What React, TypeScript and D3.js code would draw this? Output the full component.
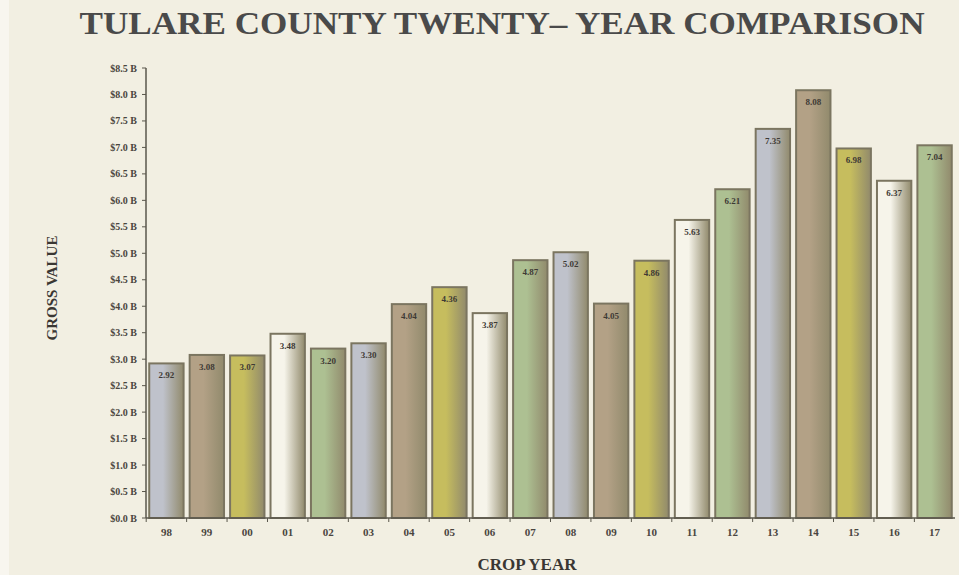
import React from "react";
import * as d3 from "d3";

const years = ["98","99","00","01","02","03","04","05","06","07","08","09","10","11","12","13","14","15","16","17"];
const values = [2.92,3.08,3.07,3.48,3.20,3.30,4.04,4.36,3.87,4.87,5.02,4.05,4.86,5.63,6.21,7.35,8.08,6.98,6.37,7.04];
const valueLabels = ["2.92","3.08","3.07","3.48","3.20","3.30","4.04","4.36","3.87","4.87","5.02","4.05","4.86","5.63","6.21","7.35","8.08","6.98","6.37","7.04"];
const yTicks = [0,0.5,1,1.5,2,2.5,3,3.5,4,4.5,5,5.5,6,6.5,7,7.5,8,8.5];
const palette = ["#bfc2cb","#b3a186","#c6bd5e","#f6f4ea","#adc092"];

const W = 959, H = 575;
const left = 146, right = 955, top = 68, bottom = 518;

export default function App() {
  const x = d3.scaleBand().domain(years).range([left, right]).paddingInner(0.15).paddingOuter(0.08);
  const y = d3.scaleLinear().domain([0, 8.5]).range([bottom, top]);
  const font = "'Liberation Serif', 'DejaVu Serif', serif";
  return (
    <svg width={W} height={H} style={{ position: "absolute", left: 0, top: 0 }}>
      <defs>
        {palette.map((c, i) => (
          <linearGradient key={i} id={`g${i}`} x1="0" x2="1" y1="0" y2="0">
            <stop offset="0%" stopColor={c} />
            <stop offset="40%" stopColor={c} />
            <stop offset="100%" stopColor="#918a6c" />
          </linearGradient>
        ))}
      </defs>
      <rect x={0} y={0} width={W} height={H} fill="#f2efe2" />
      <rect x={0} y={0} width={9} height={H} fill="#f8f6ef" />
      <text x={502} y={34} textAnchor="middle" fontFamily={font} fontWeight="bold" fontSize={32} fill="#4a4a4a" textLength={845} lengthAdjust="spacingAndGlyphs">TULARE COUNTY TWENTY– YEAR COMPARISON</text>
      {values.map((v, i) => (
        <g key={i}>
          <rect x={x(years[i])} y={y(v)} width={x.bandwidth()} height={bottom - y(v)} fill={`url(#g${i % 5})`} stroke="#7b7560" strokeWidth={2} />
          <text x={(x(years[i]) as number) + x.bandwidth() / 2} y={y(v) + 15} textAnchor="middle" fontFamily={font} fontWeight="bold" fontSize={9} fill="#3e3a35">{valueLabels[i]}</text>
        </g>
      ))}
      <line x1={left} x2={left} y1={top} y2={bottom} stroke="#5a574c" strokeWidth={1.5} />
      <line x1={left} x2={right} y1={bottom} y2={bottom} stroke="#5a574c" strokeWidth={1.5} />
      {yTicks.map((t) => (
        <g key={t}>
          <line x1={left - 4} x2={left} y1={y(t)} y2={y(t)} stroke="#5a574c" strokeWidth={1} />
          <text x={left - 9} y={y(t) + 3.5} textAnchor="end" fontFamily={font} fontWeight="bold" fontSize={10} fill="#4a4540">{`$${t.toFixed(1)} B`}</text>
        </g>
      ))}
      {years.map((yr) => {
        const b = x(yr) as number;
        const step = x.step();
        return (
          <g key={yr}>
            <line x1={b - (step - x.bandwidth()) / 2} x2={b - (step - x.bandwidth()) / 2} y1={bottom} y2={bottom + 4} stroke="#5a574c" strokeWidth={1} />
            <text x={b + x.bandwidth() / 2} y={bottom + 18} textAnchor="middle" fontFamily={font} fontWeight="bold" fontSize={11} fill="#4a4540">{yr}</text>
          </g>
        );
      })}
      <text transform={`translate(57,288) rotate(-90)`} textAnchor="middle" fontFamily={font} fontWeight="bold" fontSize={15} fill="#3a3733">GROSS VALUE</text>
      <text x={527} y={570} textAnchor="middle" fontFamily={font} fontWeight="bold" fontSize={17} fill="#3a3733">CROP YEAR</text>
    </svg>
  );
}
